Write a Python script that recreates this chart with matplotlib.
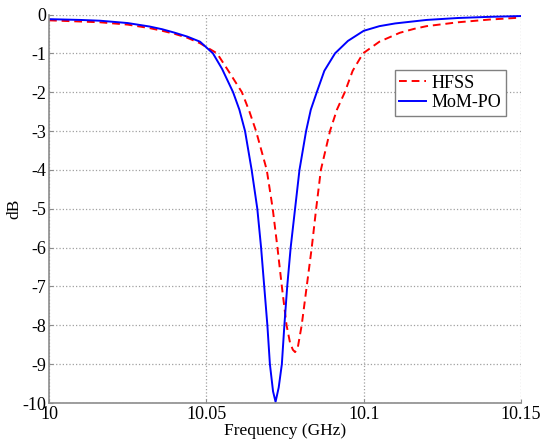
import numpy as np
import matplotlib.pyplot as plt

plt.rcParams['font.family'] = ['Liberation Serif', 'DejaVu Serif']
plt.rcParams['font.size'] = 13
plt.rcParams['axes.unicode_minus'] = False

# MoM-PO (blue, solid)
freq_mom = [10.0, 10.01, 10.0162, 10.025, 10.032, 10.036, 10.04, 10.044,
            10.048, 10.0521, 10.055, 10.0585, 10.0605, 10.0623, 10.0644,
            10.0662, 10.0674, 10.0684, 10.0694, 10.0702, 10.0712, 10.0720,
            10.0730, 10.074, 10.0748, 10.0757, 10.0768, 10.0782, 10.0796,
            10.0817, 10.0832, 10.0851, 10.0875, 10.0909, 10.095, 10.1,
            10.105, 10.11, 10.12, 10.13, 10.14, 10.15]
db_mom = [-0.12, -0.14, -0.16, -0.22, -0.31, -0.38, -0.47, -0.57,
          -0.70, -1.0, -1.4, -2.0, -2.45, -3.0, -4.0,
          -5.0, -6.0, -7.0, -8.0, -9.0, -9.7, -9.97,
          -9.6, -9.0, -8.0, -7.0, -6.0, -5.0, -4.0,
          -3.0, -2.45, -2.0, -1.45, -1.0, -0.68, -0.42,
          -0.3, -0.23, -0.14, -0.09, -0.06, -0.04]

# HFSS (red, dashed)
freq_hfss = [10.0, 10.0162, 10.025, 10.032, 10.036, 10.04, 10.044, 10.048,
             10.0534, 10.057, 10.0613, 10.0637, 10.0658, 10.0692, 10.0711,
             10.0726, 10.0740, 10.0755, 10.0766, 10.0775, 10.0782, 10.0790,
             10.0803, 10.0819, 10.0835, 10.0849, 10.0864, 10.0893, 10.0915,
             10.094, 10.0965, 10.0998, 10.105, 10.1115, 10.116, 10.12,
             10.13, 10.14, 10.15]
db_hfss = [-0.15, -0.2, -0.26, -0.35, -0.42, -0.5, -0.6, -0.74,
           -1.0, -1.45, -2.0, -2.5, -3.0, -4.0, -5.0,
           -6.0, -7.0, -8.0, -8.45, -8.63, -8.69, -8.6,
           -8.0, -7.0, -6.0, -5.0, -4.0, -3.0, -2.45,
           -2.0, -1.45, -1.0, -0.7, -0.47, -0.37, -0.3,
           -0.2, -0.13, -0.08]

fig = plt.figure(figsize=(5.52, 4.43), dpi=100)
ax = fig.add_axes([49 / 552, 1 - 403 / 443, 472 / 552, 388.5 / 443])

ax.plot(freq_hfss, db_hfss, color='#ff0000', linestyle='--', linewidth=1.4,
        dashes=(4, 2.5), label='HFSS')
ax.plot(freq_mom, db_mom, color='#0000ff', linestyle='-', linewidth=1.4,
        label='MoM-PO')

ax.set_xlim(10, 10.15)
ax.set_ylim(-10, 0)
ax.set_xticks([10, 10.05, 10.1, 10.15])
ax.set_xticklabels(['10', '10.05', '10.1', '10.15'])
ax.set_yticks(range(-10, 1))
ax.set_xlabel('Frequency (GHz)', labelpad=0, fontsize=12.5)
ax.set_ylabel('dB', labelpad=0, fontsize=12.5)

ax.grid(True, linestyle=':', color='#a0a0a0', linewidth=0.9)
for side in ['top', 'right']:
    ax.spines[side].set_visible(False)
for side in ['left', 'bottom']:
    ax.spines[side].set_color('#8c8c8c')
    ax.spines[side].set_linewidth(1.2)
ax.tick_params(direction='in', length=3, color='#8c8c8c', pad=2)

leg = ax.legend(loc='upper right', bbox_to_anchor=(0.968, 0.857),
                borderaxespad=0, fancybox=False, framealpha=1,
                edgecolor='#808080', handlelength=1.5, borderpad=0.25,
                labelspacing=0.15, handletextpad=0.3, fontsize=13)
leg.get_frame().set_linewidth(1.0)

fig.savefig('out.png', dpi=100)
